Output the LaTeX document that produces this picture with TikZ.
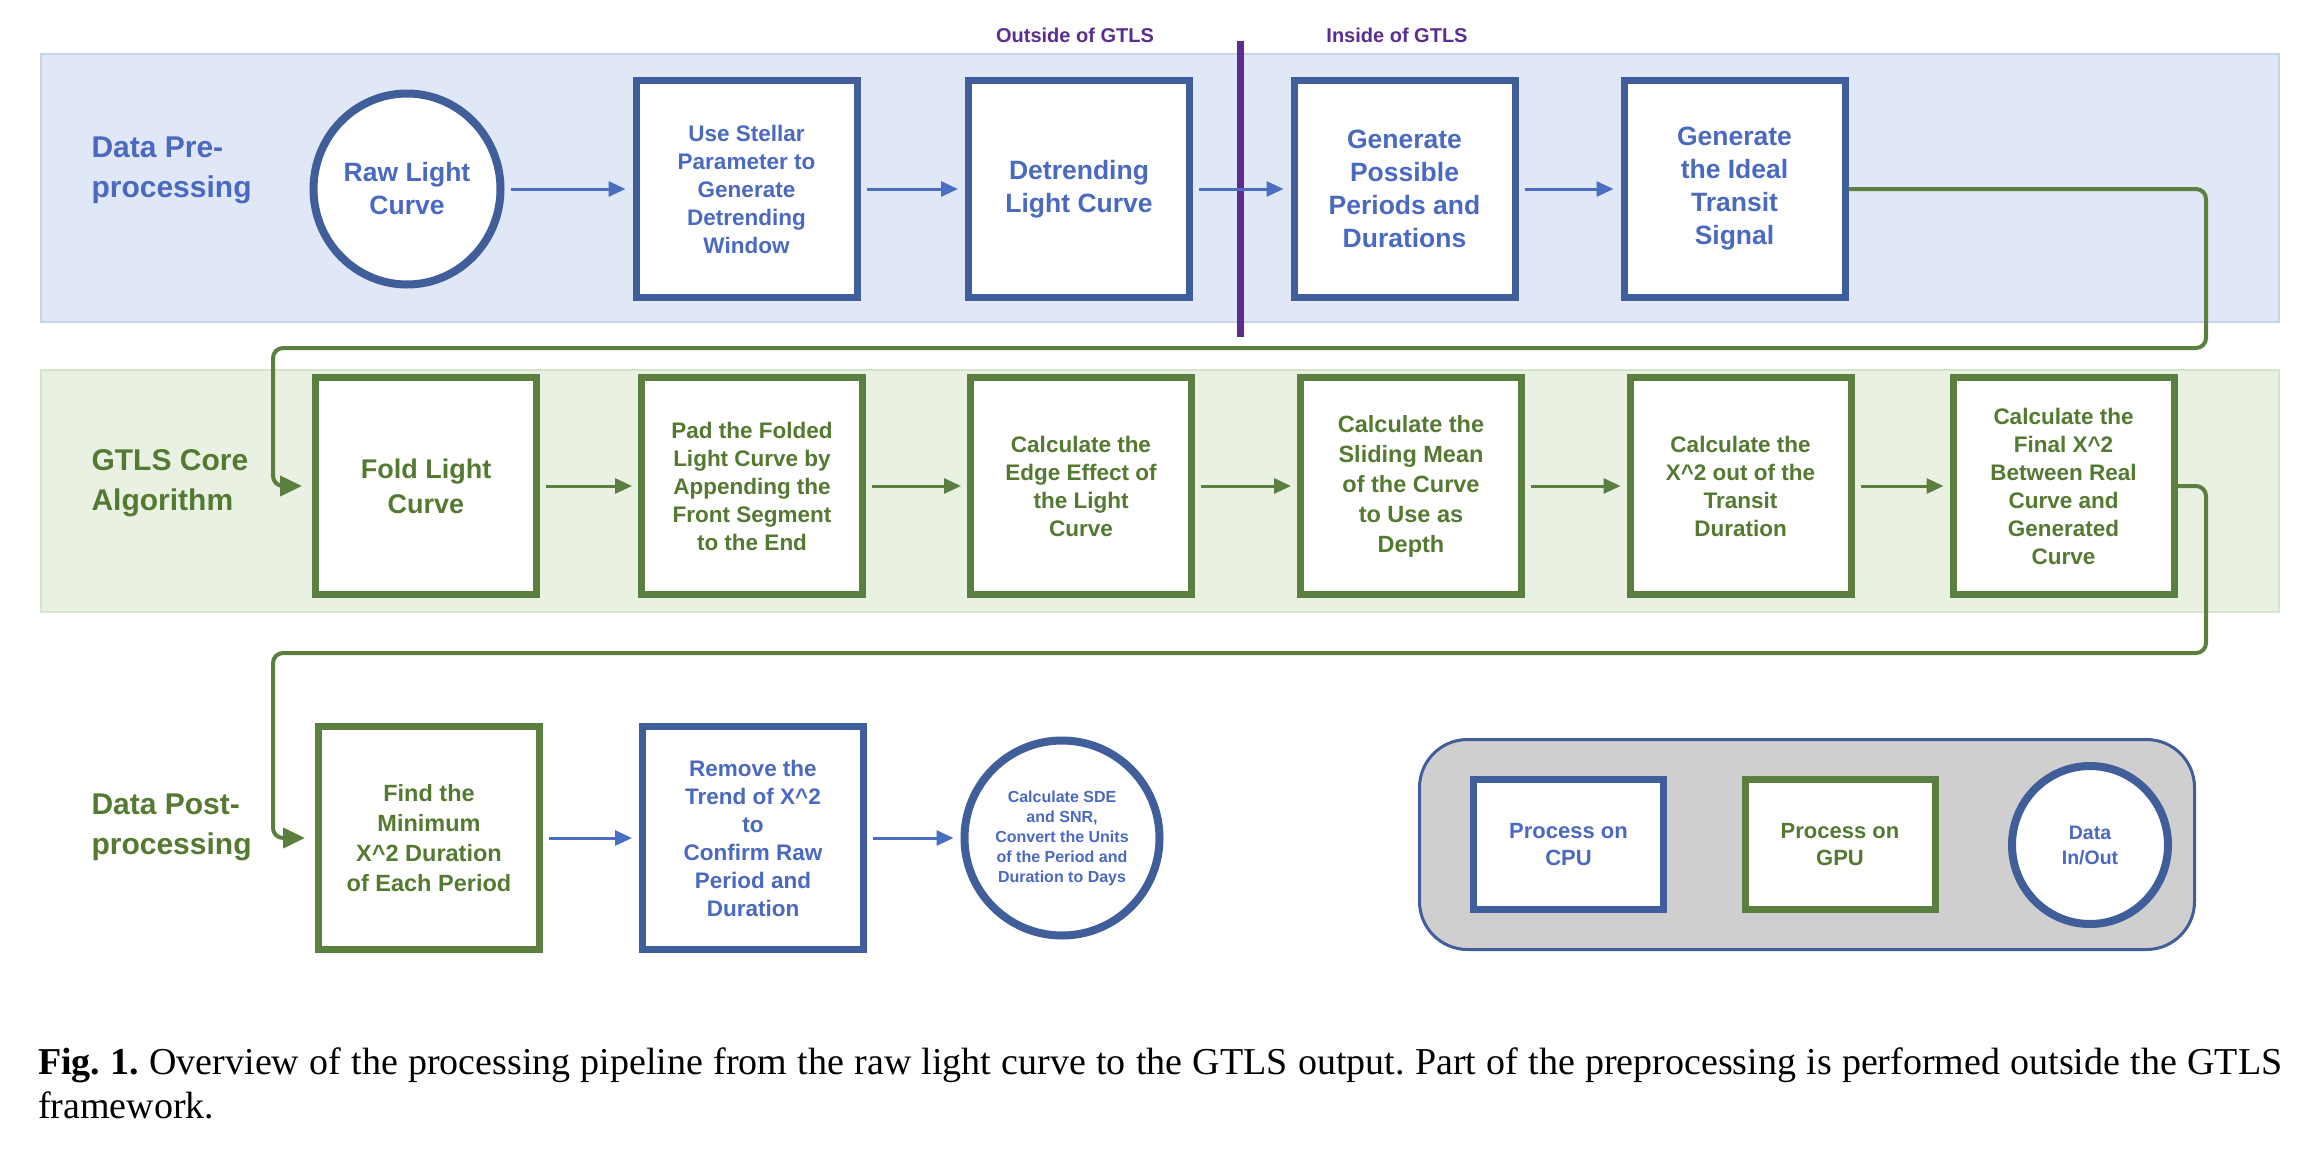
\documentclass[tikz,border=0pt]{standalone}
\usepackage{fontspec}
\setmainfont{Liberation Sans}
\newfontfamily\capfont{Liberation Serif}
\usetikzlibrary{arrows.meta,shapes.geometric}
\definecolor{bborder}{HTML}{405E9A}
\definecolor{btext}{HTML}{4A69C0}
\definecolor{barrowc}{HTML}{4A6FC2}
\definecolor{gborder}{HTML}{5B7F3E}
\definecolor{gtext}{HTML}{547A32}
\definecolor{purp}{HTML}{5C2D91}
\definecolor{bandblue}{HTML}{E0E7F6}
\definecolor{bandblueb}{HTML}{C6D3EE}
\definecolor{bandgreen}{HTML}{E9F1E3}
\definecolor{bandgreenb}{HTML}{D5E4CB}
\definecolor{leggray}{HTML}{CFCFCF}
\newcommand\szBig{\bfseries\fontsize{26.5}{33}\selectfont}
\newcommand\szMid{\bfseries\fontsize{22.5}{28}\selectfont}
\newcommand\szMidB{\bfseries\fontsize{23.5}{30}\selectfont}
\newcommand\szSmall{\bfseries\fontsize{16}{20}\selectfont}
\newcommand\szLab{\bfseries\fontsize{30}{40}\selectfont}
\begin{document}
\begin{tikzpicture}[x=1pt,y=-1pt,
  cpubox/.style={draw=bborder, line width=7pt, fill=white, minimum width=221pt, minimum height=217pt, align=center, text=btext, inner sep=0pt},
  gpubox/.style={draw=gborder, line width=7pt, fill=white, minimum width=221pt, minimum height=217pt, align=center, text=gtext, inner sep=0pt},
  ioell/.style={ellipse, draw=bborder, line width=8pt, fill=white, align=center, text=btext, inner sep=0pt},
  barrow/.style={draw=barrowc, line width=3pt, -{Triangle[length=17pt,width=15pt]}, shorten <=6pt, shorten >=7pt},
  garrow/.style={draw=gborder, line width=3pt, -{Triangle[length=17pt,width=15pt]}, shorten <=6pt, shorten >=6pt},
  gconn/.style={draw=gborder, line width=4pt, rounded corners=10pt, -{Triangle[length=22pt,width=20pt]}, shorten >=10pt},
  bandlab/.style={anchor=west, align=left, font=\szLab}
]
\useasboundingbox (0,0) rectangle (2316,1157);
\fill[white] (0,0) rectangle (2316,1157);
% bands
\draw[fill=bandblue, draw=bandblueb, line width=2.5pt] (41,54) rectangle (2279,322);
\draw[fill=bandgreen, draw=bandgreenb, line width=2.5pt] (41,370) rectangle (2279,612);
% band labels
\node[bandlab, text=btext] (l1) at (88,170) {Data Pre-\\processing};
\node[bandlab, text=gtext] (l2) at (88,483) {GTLS Core\\Algorithm};
\node[bandlab, text=gtext] (l3) at (88,827) {Data Post-\\processing};
% top labels and divider
\node[text=purp, font=\bfseries\fontsize{20}{24}\selectfont] (o1) at (1075,35) {Outside of GTLS};
\node[text=purp, font=\bfseries\fontsize{20}{24}\selectfont] (o2) at (1397,35) {Inside of GTLS};
\coordinate (dv1) at (1240,41);
\coordinate (dv2) at (1240,337);
\draw[purp, line width=7pt] (dv1) -- (dv2);
% row 1
\node[ioell, minimum width=187pt, minimum height=191pt, font=\szBig] (raw) at (407,189) {Raw Light\\Curve};
\node[cpubox, font=\szMid] (b2) at (746.5,189) {Use Stellar\\Parameter to\\Generate\\Detrending\\Window};
\node[cpubox, font=\szBig] (b3) at (1079,189) {Detrending\\Light Curve};
\node[cpubox, font=\szBig] (b4) at (1404.5,189) {Generate\\Possible\\Periods and\\Durations};
\node[cpubox, font=\szBig] (b5) at (1734.5,189) {Generate\\the Ideal\\Transit\\Signal};
\draw[barrow] (raw) -- (b2);
\draw[barrow] (b2) -- (b3);
\draw[barrow] (b3) -- (b4);
\draw[barrow] (b4) -- (b5);
% row 2
\node[gpubox, font=\bfseries\fontsize{27}{35}\selectfont] (f1) at (426,486) {Fold Light\\Curve};
\node[gpubox, font=\szMid] (f2) at (752,486) {Pad the Folded\\Light Curve by\\Appending the\\Front Segment\\to the End};
\node[gpubox, font=\szMid] (f3) at (1081,486) {Calculate the\\Edge Effect of\\the Light\\Curve};
\node[gpubox, font=\szMidB] (f4) at (1411,486) {Calculate the\\Sliding Mean\\of the Curve\\to Use as\\Depth};
\node[gpubox, font=\szMid] (f5) at (1740.5,486) {Calculate the\\X\textasciicircum2 out of the\\Transit\\Duration};
\node[gpubox, font=\szMid] (f6) at (2063.5,486) {Calculate the\\Final X\textasciicircum2\\Between Real\\Curve and\\Generated\\Curve};
\draw[garrow] (f1) -- (f2);
\draw[garrow] (f2) -- (f3);
\draw[garrow] (f3) -- (f4);
\draw[garrow] (f4) -- (f5);
\draw[garrow] (f5) -- (f6);
% row 3
\node[gpubox, minimum height=223pt, font=\szMidB] (p1) at (429,838) {Find the\\Minimum\\X\textasciicircum2 Duration\\of Each Period};
\node[cpubox, minimum height=223pt, font=\szMid] (p2) at (753,838) {Remove the\\Trend of X\textasciicircum2\\to\\Confirm Raw\\Period and\\Duration};
\node[ioell, minimum width=195pt, minimum height=195pt, font=\szSmall] (p3) at (1062,838) {Calculate SDE\\and SNR,\\Convert the Units\\of the Period and\\Duration to Days};
\draw[barrow] (p1) -- (p2);
\draw[barrow] (p2) -- (p3);
% elbow connectors
\draw[gconn] (b5.east) -- (2206,189) -- (2206,348) -- (273,348) -- (273,486) -- (f1.west);
\draw[gconn] (f6.east) -- (2206,486) -- (2206,653) -- (273,653) -- (273,838) -- (p1.west);
% legend
\node[draw=bborder, line width=3pt, fill=leggray, rounded corners=48pt, minimum width=775pt, minimum height=210pt] (leg) at (1807,844.5) {};
\node[cpubox, minimum width=190pt, minimum height=130pt, font=\bfseries\fontsize{22}{27}\selectfont] (lc) at (1568.5,844.5) {Process on\\CPU};
\node[gpubox, minimum width=190pt, minimum height=130pt, font=\bfseries\fontsize{22}{27}\selectfont] (lg) at (1840,844.5) {Process on\\GPU};
\node[ioell, minimum width=156pt, minimum height=158pt, font=\bfseries\fontsize{19.5}{25}\selectfont] (ld) at (2090,845) {Data\\In/Out};
% caption
\node[anchor=north west, text width=2244pt, align=justify, inner sep=0pt, font=\capfont\fontsize{38}{44}\selectfont\frenchspacing] (cap) at (38,1048) {\textbf{Fig. 1.} Overview of the processing pipeline from the raw light curve to the GTLS output. Part of the preprocessing is performed outside the GTLS\linebreak framework.};
\end{tikzpicture}
\end{document}
